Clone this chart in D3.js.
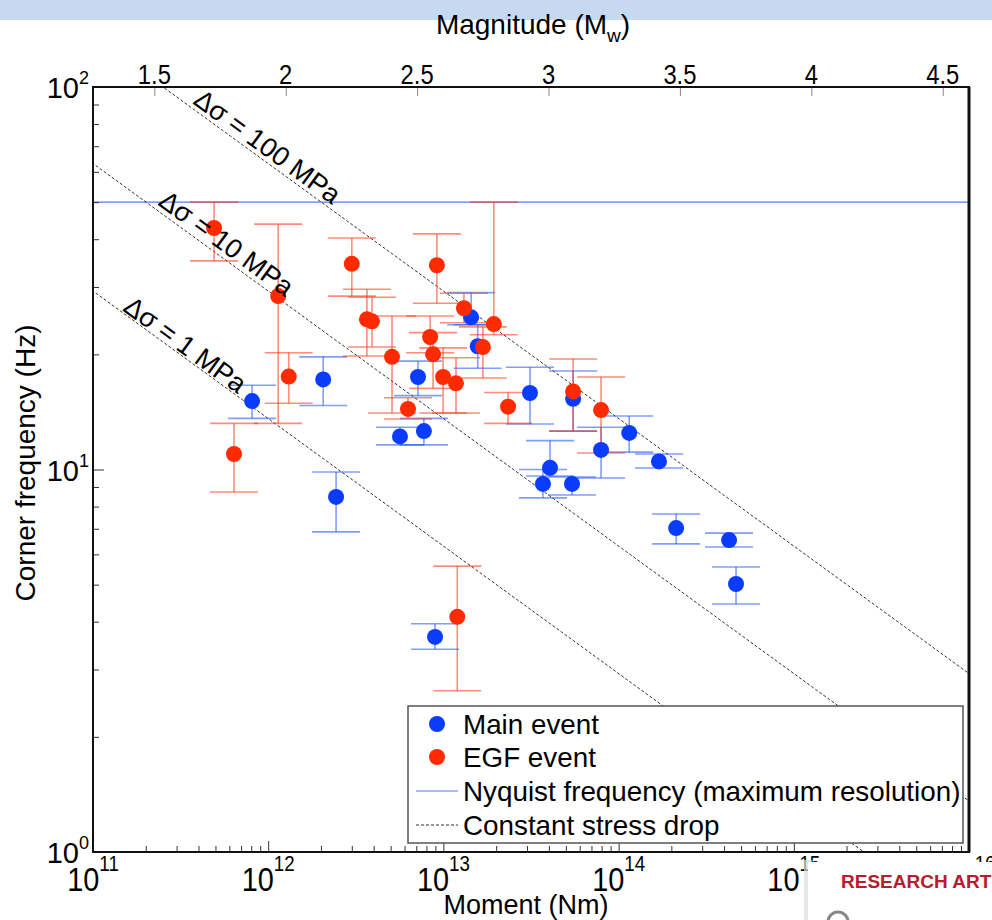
<!DOCTYPE html>
<html>
<head>
<meta charset="utf-8">
<script src="https://cdn.jsdelivr.net/npm/d3@7"></script>
<style>
  body { margin: 0; background: #fff; }
  svg { display: block; font-family: "Liberation Sans", Arial, Helvetica, sans-serif; }
</style>
</head>
<body>
<svg id="chart" width="992" height="920"></svg>
<script>
// Main events: seismic moment (Nm), corner frequency (Hz) and its uncertainty bounds
const mainMoment = [8.09e11, 2.06e12, 2.44e12, 7.16e12, 5.65e12, 7.74e12, 1.44e13, 1.57e13, 3.12e13, 5.5e13,
                    4.06e13, 3.7e13, 5.42e13, 7.94e13, 1.15e14, 1.7e14, 2.13e14, 4.27e14, 4.68e14, 8.96e12];
const mainFc     = [15.1, 17.2, 8.48, 17.45, 12.2, 12.6, 25.0, 21.0, 15.85, 15.3,
                    10.1, 9.17, 9.17, 11.25, 12.46, 10.5, 7.03, 6.54, 5.02, 3.65];
const mainFcLow  = [13.6, 14.7, 6.87, 15.6, 11.6, 11.6, 23.9, 18.4, 13.15, 12.6,
                    9.62, 8.43, 8.58, 9.5, 11.1, 10.09, 6.39, 6.27, 4.45, 3.39];
const mainFcHigh = [16.6, 19.7, 9.85, 19.2, 12.9, 13.6, 29.0, 23.9, 18.5, 18.1,
                    11.9, 10.0, 9.56, 12.9, 13.8, 10.98, 7.65, 6.82, 5.56, 3.95];

// Empirical Green's function events
const egfMoment = [4.91e11, 1.14e12, 1.31e12, 6.38e11, 3.0e12, 3.66e12, 3.91e12, 5.09e12, 9.18e12, 1.31e13, 1.94e13,
                   1.68e13, 8.4e12, 8.73e12, 9.96e12, 1.18e13, 6.28e12, 2.34e13, 5.5e13, 7.94e13, 1.2e13];
const egfFc      = [42.8, 28.4, 17.5, 10.98, 34.5, 24.7, 24.4, 19.7, 34.2, 26.4, 24.0,
                    20.9, 22.2, 20.0, 17.45, 16.8, 14.4, 14.6, 16.0, 14.3, 4.12];
const egfFcLow   = [35.1, 13.2, 14.9, 8.73, 28.4, 19.8, 20.9, 14.05, 27.2, 24.2, 22.5,
                    17.35, 20.2, 16.3, 14.05, 14.05, 13.55, 13.2, 12.6, 11.04, 2.64];
const egfFcHigh  = [50.0, 43.8, 20.2, 13.2, 40.3, 29.6, 28.2, 25.2, 41.3, 28.9, 50.0,
                    23.6, 25.2, 22.8, 20.8, 19.6, 15.4, 15.9, 19.45, 17.45, 5.59];

// Reference curves and axis ticks
const nyquistHz = 50;
const stressDropsMPa = [100, 10, 1];
const shearVelocity = 2770;   // m/s, Brune source model
const momentTicks = [1e11, 1e12, 1e13, 1e14, 1e15, 1e16];
const momentExponents = ["11", "12", "13", "14", "15", "16"];
const freqTicks = [1, 10, 100];
const freqExponents = ["0", "1", "2"];
const magnitudeTicks = [1.5, 2, 2.5, 3, 3.5, 4, 4.5];
const legendLabels = ["Main event", "EGF event", "Nyquist frequency (maximum resolution)", "Constant stress drop"];

const svg = d3.select("#chart");
const W = 992, H = 920;
const plot = { left: 93, right: 969, top: 87, bottom: 852 };

const x = d3.scaleLog().domain([1e11, 1e16]).range([plot.left, plot.right]);
const y = d3.scaleLog().domain([1, 100]).range([plot.bottom, plot.top]);
const momentFromMw = mw => Math.pow(10, 1.5 * mw + 9.1);
const brune = (dsMPa, m0) => 0.4906 * shearVelocity * Math.cbrt(dsMPa * 1e6 / m0);

const BLUE = "#0a3cff", RED = "#ff2a00";

// header band
svg.append("rect").attr("x", 0).attr("y", 0).attr("width", W).attr("height", 20).attr("fill", "#c7d9f0");

svg.append("defs").append("clipPath").attr("id", "plotClip")
  .append("rect").attr("x", plot.left).attr("y", plot.top)
  .attr("width", plot.right - plot.left).attr("height", plot.bottom - plot.top);

const inner = svg.append("g").attr("clip-path", "url(#plotClip)");

// Nyquist limit
inner.append("line")
  .attr("x1", plot.left).attr("x2", plot.right)
  .attr("y1", y(nyquistHz)).attr("y2", y(nyquistHz))
  .attr("stroke", "#5578ff").attr("stroke-width", 1.2);

// constant stress-drop lines
const sdLine = d3.line().x(d => x(d[0])).y(d => y(d[1]));
stressDropsMPa.forEach(ds => {
  const pts = [1e10, 1e17].map(m => [m, brune(ds, m)]);
  inner.append("path").attr("d", sdLine(pts))
    .attr("fill", "none").attr("stroke", "#333").attr("stroke-width", 1)
    .attr("stroke-dasharray", "3,2");
});

// stress-drop labels, laid along their lines
const sdAngle = Math.atan2(y(brune(1, 1e12)) - y(brune(1, 1e11)), x(1e12) - x(1e11)) * 180 / Math.PI;
const sdLabelStart = { 100: [3.67e11, -5], 10: [2.32e11, -6], 1: [1.46e11, -2] };
stressDropsMPa.forEach(ds => {
  const [m0, off] = sdLabelStart[ds];
  const px = x(m0), py = y(brune(ds, m0)) + off;
  svg.append("text")
    .attr("transform", `translate(${px},${py}) rotate(${sdAngle})`)
    .attr("font-size", 27).attr("fill", "#000")
    .text(`Δσ = ${ds} MPa`);
});

// error bars
function drawErrors(moment, low, high, color) {
  const g = inner.append("g").attr("stroke", color).attr("stroke-opacity", 0.55).attr("stroke-width", 1.6);
  moment.forEach((m, i) => {
    const cx = x(m);
    g.append("line").attr("x1", cx).attr("x2", cx).attr("y1", y(low[i])).attr("y2", y(high[i]));
    g.append("line").attr("x1", cx - 24).attr("x2", cx + 24).attr("y1", y(low[i])).attr("y2", y(low[i]));
    g.append("line").attr("x1", cx - 24).attr("x2", cx + 24).attr("y1", y(high[i])).attr("y2", y(high[i]));
  });
}
function drawPoints(moment, fc, color) {
  inner.append("g").selectAll("circle").data(moment).join("circle")
    .attr("cx", d => x(d)).attr("cy", (d, i) => y(fc[i])).attr("r", 8)
    .attr("fill", color);
}
drawErrors(mainMoment, mainFcLow, mainFcHigh, "#1a4dff");
drawErrors(egfMoment, egfFcLow, egfFcHigh, "#ff3010");
drawPoints(mainMoment, mainFc, BLUE);
drawPoints(egfMoment, egfFc, RED);

// axes ticks (inward)
const minorMoments = [];
for (let e = 11; e < 16; e++) for (let k = 2; k <= 9; k++) minorMoments.push(k * Math.pow(10, e));
const minorFreqs = [];
for (let e = 0; e < 2; e++) for (let k = 2; k <= 9; k++) minorFreqs.push(k * Math.pow(10, e));

function tickAxis(axis, transform) {
  const g = svg.append("g").attr("transform", transform).call(axis);
  g.select(".domain").remove();
  g.selectAll("line").attr("stroke", "#333").attr("stroke-width", 1);
  return g;
}
tickAxis(d3.axisBottom(x).tickValues(momentTicks).tickSize(-11).tickFormat(""), `translate(0,${plot.bottom})`);
tickAxis(d3.axisBottom(x).tickValues(minorMoments).tickSize(-6).tickFormat(""), `translate(0,${plot.bottom})`);
tickAxis(d3.axisLeft(y).tickValues(freqTicks).tickSize(-11).tickFormat(""), `translate(${plot.left},0)`);
tickAxis(d3.axisLeft(y).tickValues(minorFreqs).tickSize(-6).tickFormat(""), `translate(${plot.left},0)`);
const mwScale = d3.scaleLinear().domain([1.5, 4.5]).range([x(momentFromMw(1.5)), x(momentFromMw(4.5))]);
tickAxis(d3.axisTop(mwScale).tickValues(magnitudeTicks).tickSize(-9).tickFormat(""), `translate(0,${plot.top})`)
  .selectAll("line").attr("stroke", "#888");

// frame
svg.append("rect").attr("x", plot.left).attr("y", plot.top)
  .attr("width", plot.right - plot.left).attr("height", plot.bottom - plot.top)
  .attr("fill", "none").attr("stroke", "#111").attr("stroke-width", 2);
svg.append("line").attr("x1", plot.right).attr("x2", plot.right).attr("y1", plot.top).attr("y2", plot.bottom)
  .attr("stroke", "#111").attr("stroke-width", 3);

// tick labels: moment (bottom), set in a narrowed face
momentTicks.forEach((m, i) => {
  const t = svg.append("text").attr("transform", `translate(${x(m)},891) scale(0.85,1)`)
    .attr("text-anchor", "middle").attr("font-size", 34);
  t.append("tspan").text("10");
  t.append("tspan").attr("dy", -20).attr("font-size", 22).text(momentExponents[i]);
});
// tick labels: frequency (left)
freqTicks.forEach((f, i) => {
  const t = svg.append("text").attr("x", 89).attr("y", y(f) + 11).attr("text-anchor", "end").attr("font-size", 29);
  t.append("tspan").text("10");
  t.append("tspan").attr("dy", -14).attr("font-size", 18).text(freqExponents[i]);
});
// tick labels: magnitude (top)
magnitudeTicks.forEach(mw => {
  svg.append("text").attr("transform", `translate(${mwScale(mw)},84) scale(0.85,1)`).attr("text-anchor", "middle")
    .attr("font-size", 28).text(mw);
});

// axis titles
svg.append("text").attr("x", 526).attr("y", 914).attr("text-anchor", "middle").attr("font-size", 27).text("Moment (Nm)");
const mag = svg.append("text").attr("x", 533).attr("y", 34).attr("text-anchor", "middle").attr("font-size", 28);
mag.append("tspan").text("Magnitude (M");
mag.append("tspan").attr("dy", 8).attr("font-size", 19).text("w");
mag.append("tspan").attr("dy", -8).text(")");
svg.append("text").attr("transform", "translate(35,463) rotate(-90)").attr("text-anchor", "middle")
  .attr("font-size", 28).text("Corner frequency (Hz)");

// legend
const lg = svg.append("g").attr("transform", "translate(408,706)");
lg.append("rect").attr("width", 555).attr("height", 137).attr("fill", "#fff")
  .attr("stroke", "#555").attr("stroke-width", 1.5);
const rowY = [18, 51, 85, 119];
lg.append("circle").attr("cx", 29).attr("cy", rowY[0]).attr("r", 8).attr("fill", BLUE);
lg.append("circle").attr("cx", 29).attr("cy", rowY[1]).attr("r", 8).attr("fill", RED);
lg.append("line").attr("x1", 8).attr("x2", 50).attr("y1", rowY[2]).attr("y2", rowY[2])
  .attr("stroke", "#5578ff").attr("stroke-width", 1.2);
lg.append("line").attr("x1", 8).attr("x2", 50).attr("y1", rowY[3]).attr("y2", rowY[3])
  .attr("stroke", "#333").attr("stroke-dasharray", "3,2");
legendLabels.forEach((txt, i) => {
  lg.append("text").attr("x", 55).attr("y", rowY[i] + 10).attr("font-size", 27.8).text(txt);
});

// page overlay in the lower-right corner
const ov = svg.append("g");
ov.append("rect").attr("x", 804).attr("y", 860).attr("width", 8).attr("height", 60).attr("fill", "#ddd").attr("opacity", 0.7);
ov.append("rect").attr("x", 808).attr("y", 862).attr("width", 184).attr("height", 58).attr("fill", "#fff");
ov.append("text").attr("x", 841).attr("y", 888).attr("font-size", 19).attr("font-weight", "bold")
  .attr("fill", "#b3202b").text("RESEARCH ART");
ov.append("circle").attr("cx", 838).attr("cy", 922).attr("r", 10).attr("fill", "none").attr("stroke", "#888").attr("stroke-width", 3);
</script>
</body>
</html>
